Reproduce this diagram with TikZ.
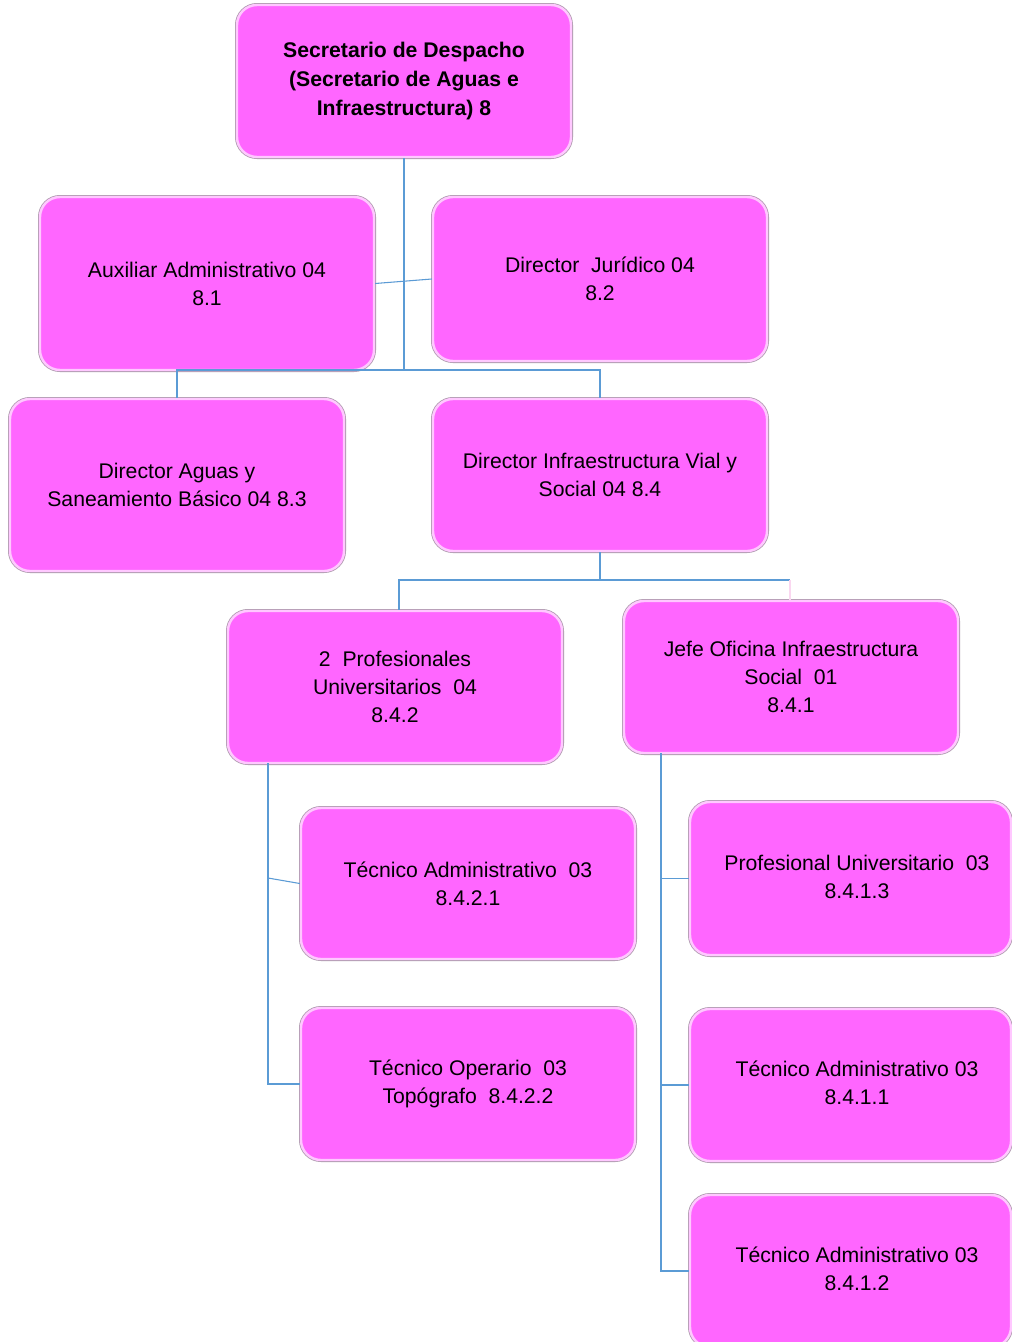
\documentclass[tikz,border=0pt]{standalone}
\usepackage{fontspec}
\setmainfont{Liberation Sans}
\definecolor{boxfill}{RGB}{255,102,255}
\definecolor{boxrim}{RGB}{255,200,255}
\definecolor{boxedge}{RGB}{175,155,175}
\definecolor{conncol}{RGB}{91,155,213}
\definecolor{palecol}{RGB}{250,215,240}
\newcommand\shiftedtext[1]{\hspace*{9.75pt}\begin{tabular}{@{}c@{}}#1\end{tabular}}
\begin{document}
\begin{tikzpicture}[x=0.75pt,y=-0.75pt,
  orgbox/.style={rectangle, rounded corners=15pt, fill=boxfill, draw=boxrim, line width=1.8pt,
    preaction={draw=boxedge, line width=3pt},
    minimum width=250.5pt, minimum height=114pt, inner sep=0pt, align=center,
    font=\fontsize{15.9}{21}\selectfont},
  titlebox/.style={orgbox, font=\fontsize{15.9}{21.75}\selectfont\bfseries},
  sidebox/.style={orgbox, align=none, minimum width=240.75pt},
  conn/.style={draw=conncol, line width=0.8pt},
  paleconn/.style={draw=palecol, line width=0.8pt}]
\clip (0,0) rectangle (1012,1342);
\fill[white] (0,0) rectangle (1012,1342);

\coordinate (j1) at (404,370);
\coordinate (j2) at (600,580);
\coordinate (j3) at (790,580);
\coordinate (pb) at (268,763);
\coordinate (jb) at (661,753);

% boxes
\node[titlebox] (sec) at (404,81) {Secretario de Despacho\\(Secretario de Aguas e\\Infraestructura) 8};
\node[orgbox, minimum height=129.75pt] (aux) at (207,283.5) {Auxiliar Administrativo 04\\8.1};
\node[orgbox, minimum height=123pt] (jur) at (600,279) {Director~ Jurídico 04\\8.2};
\node[orgbox, minimum height=129pt] (agu) at (177,485) {Director Aguas y\\Saneamiento Básico 04 8.3};
\node[orgbox] (via) at (600,475) {Director Infraestructura Vial y\\Social 04 8.4};
\node[orgbox] (pro) at (395,687) {2~ Profesionales\\Universitarios~ 04\\8.4.2};
\node[orgbox] (jef) at (791,677) {Jefe Oficina Infraestructura\\Social~ 01\\8.4.1};
\node[orgbox, minimum height=113.25pt] (ta1) at (468,883.5) {Técnico Administrativo~ 03\\8.4.2.1};
\node[orgbox] (top) at (468,1084) {Técnico Operario~ 03\\Topógrafo~ 8.4.2.2};
\node[sidebox, minimum height=114.75pt] (pu3) at (850.5,878.5) {\shiftedtext{Profesional Universitario~ 03\\8.4.1.3}};
\node[sidebox] (ta11) at (850.5,1085) {\shiftedtext{Técnico Administrativo 03\\8.4.1.1}};
\node[sidebox] (ta12) at (850.5,1271) {\shiftedtext{Técnico Administrativo 03\\8.4.1.2}};

% connectors
\draw[conn] (sec.south) -- (j1);
\draw[conn] (agu.north) |- (j1) -| (via.north);
\draw[conn] (aux.east) -- (jur.west);
\draw[conn] (via.south) -- (j2);
\draw[conn] (pro.north -| 399,0) |- (j2) -- (j3);
\draw[paleconn] (j3) -- (j3 |- jef.north);
\draw[conn] (pb) |- (top.west);
\draw[conn] (pb |- 0,878) -- (ta1.west);
\draw[conn] (jb) |- (ta12.west);
\draw[conn] (jb |- pu3.west) -- (pu3.west);
\draw[conn] (jb |- ta11.west) -- (ta11.west);
\end{tikzpicture}
\end{document}
